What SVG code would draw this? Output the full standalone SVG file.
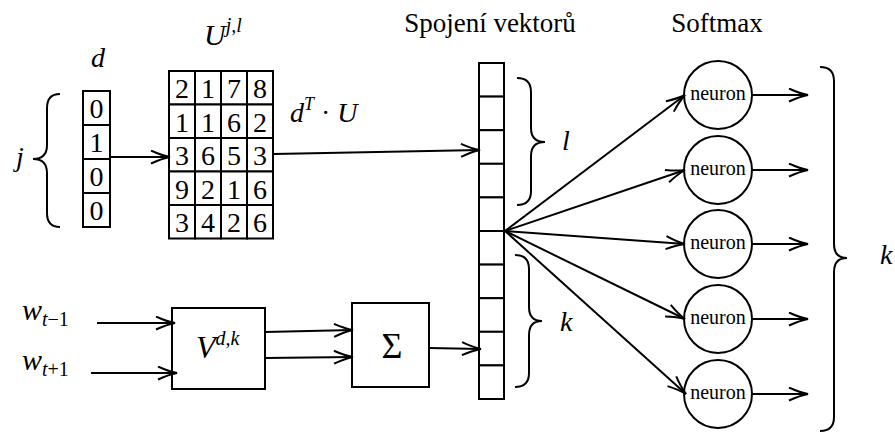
<svg xmlns="http://www.w3.org/2000/svg" width="895" height="441" viewBox="0 0 895 441">
<defs>
<marker id="ar" markerWidth="22" markerHeight="15" refX="20" refY="7.5" orient="auto" markerUnits="userSpaceOnUse" viewBox="0 0 22 15">
<path d="M1 1 Q12 6 20 7.5 Q12 9 1 14" fill="none" stroke="#000" stroke-width="2"/>
</marker>
</defs>
<rect width="895" height="441" fill="#fff"/>

<g id="labels">
<text x="490" y="32" style="font-family:'Liberation Serif','DejaVu Serif',serif;font-size:27px;text-anchor:middle">Spojení vektorů</text>
<text x="717" y="32" style="font-family:'Liberation Serif','DejaVu Serif',serif;font-size:27px;text-anchor:middle">Softmax</text>
</g>

<g id="vector-d">
<text x="98" y="67" style="font-family:'Liberation Serif','DejaVu Serif',serif;font-style:italic;font-size:28px;text-anchor:middle">d</text>
<g fill="#fff" stroke="#000" stroke-width="2">
<rect x="83" y="91" width="27" height="34"/>
<rect x="83" y="125" width="27" height="34"/>
<rect x="83" y="159" width="27" height="34"/>
<rect x="83" y="193" width="27" height="34"/>
</g>
<text x="96.5" y="118" style="font-family:'Liberation Serif','DejaVu Serif',serif;font-size:28px;text-anchor:middle">0</text>
<text x="96.5" y="152" style="font-family:'Liberation Serif','DejaVu Serif',serif;font-size:28px;text-anchor:middle">1</text>
<text x="96.5" y="186" style="font-family:'Liberation Serif','DejaVu Serif',serif;font-size:28px;text-anchor:middle">0</text>
<text x="96.5" y="220" style="font-family:'Liberation Serif','DejaVu Serif',serif;font-size:28px;text-anchor:middle">0</text>
<path fill="none" stroke="#000" stroke-width="2" d="M60 94 Q47 94 47 108 L47 145 Q47 159 33 159 Q47 159 47 173 L47 213 Q47 227 60 227"/>
<text x="16" y="166" style="font-family:'Liberation Serif','DejaVu Serif',serif;font-style:italic;font-size:28px">j</text>
</g>

<g id="matrix-U">
<text x="204" y="45" style="font-family:'Liberation Serif','DejaVu Serif',serif;font-style:italic;font-size:30px">U<tspan dy="-13" style="font-family:'Liberation Serif','DejaVu Serif',serif;font-size:20px">j,l</tspan></text>
<g fill="#fff" stroke="#000" stroke-width="2">
<rect x="169" y="71" width="26" height="33.5"/><rect x="195" y="71" width="26" height="33.5"/><rect x="221" y="71" width="26" height="33.5"/><rect x="247" y="71" width="26" height="33.5"/>
<rect x="169" y="104.5" width="26" height="33.5"/><rect x="195" y="104.5" width="26" height="33.5"/><rect x="221" y="104.5" width="26" height="33.5"/><rect x="247" y="104.5" width="26" height="33.5"/>
<rect x="169" y="138" width="26" height="33.5"/><rect x="195" y="138" width="26" height="33.5"/><rect x="221" y="138" width="26" height="33.5"/><rect x="247" y="138" width="26" height="33.5"/>
<rect x="169" y="171.5" width="26" height="33.5"/><rect x="195" y="171.5" width="26" height="33.5"/><rect x="221" y="171.5" width="26" height="33.5"/><rect x="247" y="171.5" width="26" height="33.5"/>
<rect x="169" y="205" width="26" height="33.5"/><rect x="195" y="205" width="26" height="33.5"/><rect x="221" y="205" width="26" height="33.5"/><rect x="247" y="205" width="26" height="33.5"/>
</g>
<text y="98" style="font-family:'Liberation Serif','DejaVu Serif',serif;font-size:28px;text-anchor:middle"><tspan x="182">2</tspan><tspan x="208">1</tspan><tspan x="234">7</tspan><tspan x="260">8</tspan></text>
<text y="131.5" style="font-family:'Liberation Serif','DejaVu Serif',serif;font-size:28px;text-anchor:middle"><tspan x="182">1</tspan><tspan x="208">1</tspan><tspan x="234">6</tspan><tspan x="260">2</tspan></text>
<text y="165" style="font-family:'Liberation Serif','DejaVu Serif',serif;font-size:28px;text-anchor:middle"><tspan x="182">3</tspan><tspan x="208">6</tspan><tspan x="234">5</tspan><tspan x="260">3</tspan></text>
<text y="198.5" style="font-family:'Liberation Serif','DejaVu Serif',serif;font-size:28px;text-anchor:middle"><tspan x="182">9</tspan><tspan x="208">2</tspan><tspan x="234">1</tspan><tspan x="260">6</tspan></text>
<text y="232" style="font-family:'Liberation Serif','DejaVu Serif',serif;font-size:28px;text-anchor:middle"><tspan x="182">3</tspan><tspan x="208">4</tspan><tspan x="234">2</tspan><tspan x="260">6</tspan></text>
<text x="290" y="122" style="font-family:'Liberation Serif','DejaVu Serif',serif;font-style:italic;font-size:28px">d<tspan dy="-12" style="font-size:18px">T</tspan><tspan dy="12" style="font-style:normal"> · </tspan>U</text>
</g>

<g id="concat-vector">
<g fill="#fff" stroke="#000" stroke-width="2">
<rect x="479" y="63" width="25" height="33.6"/>
<rect x="479" y="96.6" width="25" height="33.6"/>
<rect x="479" y="130.2" width="25" height="33.6"/>
<rect x="479" y="163.8" width="25" height="33.6"/>
<rect x="479" y="197.4" width="25" height="33.6"/>
<rect x="479" y="231" width="25" height="33.6"/>
<rect x="479" y="264.6" width="25" height="33.6"/>
<rect x="479" y="298.2" width="25" height="33.6"/>
<rect x="479" y="331.8" width="25" height="33.6"/>
<rect x="479" y="365.4" width="25" height="33.6"/>
</g>
<path fill="none" stroke="#000" stroke-width="2" d="M517 78 Q531 78 531 92 L531 128 Q531 142 545 142 Q531 142 531 156 L531 191 Q531 205 517 205"/>
<text x="562" y="150" style="font-family:'Liberation Serif','DejaVu Serif',serif;font-style:italic;font-size:28px">l</text>
<path fill="none" stroke="#000" stroke-width="2" d="M515 255 Q529 255 529 269 L529 307 Q529 321 542 321 Q529 321 529 335 L529 373 Q529 387 515 387"/>
<text x="560" y="331" style="font-family:'Liberation Serif','DejaVu Serif',serif;font-style:italic;font-size:28px">k</text>
</g>

<g id="V-box">
<rect x="172" y="308" width="93" height="81" fill="#fff" stroke="#000" stroke-width="2"/>
<text x="196" y="358" style="font-family:'Liberation Serif','DejaVu Serif',serif;font-style:italic;font-size:32px">V<tspan dy="-13" style="font-size:20px">d,k</tspan></text>
</g>

<g id="sum-box">
<rect x="352" y="303" width="77" height="84" fill="#fff" stroke="#000" stroke-width="2"/>
<text x="392" y="358" style="font-family:'Liberation Serif','DejaVu Serif',serif;font-size:36px;text-anchor:middle">Σ</text>
</g>

<g id="inputs">
<text x="22" y="320" style="font-family:'Liberation Serif','DejaVu Serif',serif;font-style:italic;font-size:30px">w<tspan dy="6" style="font-size:20px">t</tspan><tspan style="font-size:20px;font-style:normal">−1</tspan></text>
<text x="22" y="370" style="font-family:'Liberation Serif','DejaVu Serif',serif;font-style:italic;font-size:30px">w<tspan dy="6" style="font-size:20px">t</tspan><tspan style="font-size:20px;font-style:normal">+1</tspan></text>
</g>

<g id="neurons">
<g id="n1"><circle cx="718" cy="95" r="34" fill="#fff" stroke="#000" stroke-width="2"/><text x="718" y="100" style="font-family:'Liberation Serif','DejaVu Serif',serif;font-size:20px;text-anchor:middle">neuron</text></g>
<g id="n2"><circle cx="718" cy="170" r="34" fill="#fff" stroke="#000" stroke-width="2"/><text x="718" y="175" style="font-family:'Liberation Serif','DejaVu Serif',serif;font-size:20px;text-anchor:middle">neuron</text></g>
<g id="n3"><circle cx="718" cy="244" r="34" fill="#fff" stroke="#000" stroke-width="2"/><text x="718" y="249" style="font-family:'Liberation Serif','DejaVu Serif',serif;font-size:20px;text-anchor:middle">neuron</text></g>
<g id="n4"><circle cx="718" cy="319" r="34" fill="#fff" stroke="#000" stroke-width="2"/><text x="718" y="324" style="font-family:'Liberation Serif','DejaVu Serif',serif;font-size:20px;text-anchor:middle">neuron</text></g>
<g id="n5"><circle cx="718" cy="394" r="34" fill="#fff" stroke="#000" stroke-width="2"/><text x="718" y="399" style="font-family:'Liberation Serif','DejaVu Serif',serif;font-size:20px;text-anchor:middle">neuron</text></g>
</g>

<g id="output-brace">
<path fill="none" stroke="#000" stroke-width="2" d="M820 67 Q834 67 834 81 L834 244 Q834 258 847 258 Q834 258 834 272 L834 417 Q834 431 820 431"/>
<text x="880" y="264" style="font-family:'Liberation Serif','DejaVu Serif',serif;font-style:italic;font-size:28px">k</text>
</g>

<g id="connectors" fill="none" stroke="#000" stroke-width="2" marker-end="url(#ar)">
<line x1="110" y1="157" x2="170" y2="157"/>
<line x1="274" y1="154" x2="480" y2="150"/>
<line x1="97" y1="323" x2="175" y2="323"/>
<line x1="91" y1="373" x2="177" y2="373"/>
<line x1="265" y1="332" x2="353" y2="330"/>
<line x1="265" y1="358" x2="353" y2="357"/>
<line x1="429" y1="348" x2="481" y2="349"/>
<line x1="505" y1="231" x2="685" y2="95"/>
<line x1="505" y1="231" x2="685" y2="170"/>
<line x1="505" y1="231" x2="685" y2="244"/>
<line x1="505" y1="231" x2="685" y2="319"/>
<line x1="505" y1="231" x2="686" y2="394"/>
<line x1="752" y1="95" x2="808" y2="95"/>
<line x1="752" y1="170" x2="808" y2="170"/>
<line x1="752" y1="244" x2="808" y2="244"/>
<line x1="752" y1="319" x2="808" y2="319"/>
<line x1="752" y1="394" x2="808" y2="394"/>
</g>
</svg>
